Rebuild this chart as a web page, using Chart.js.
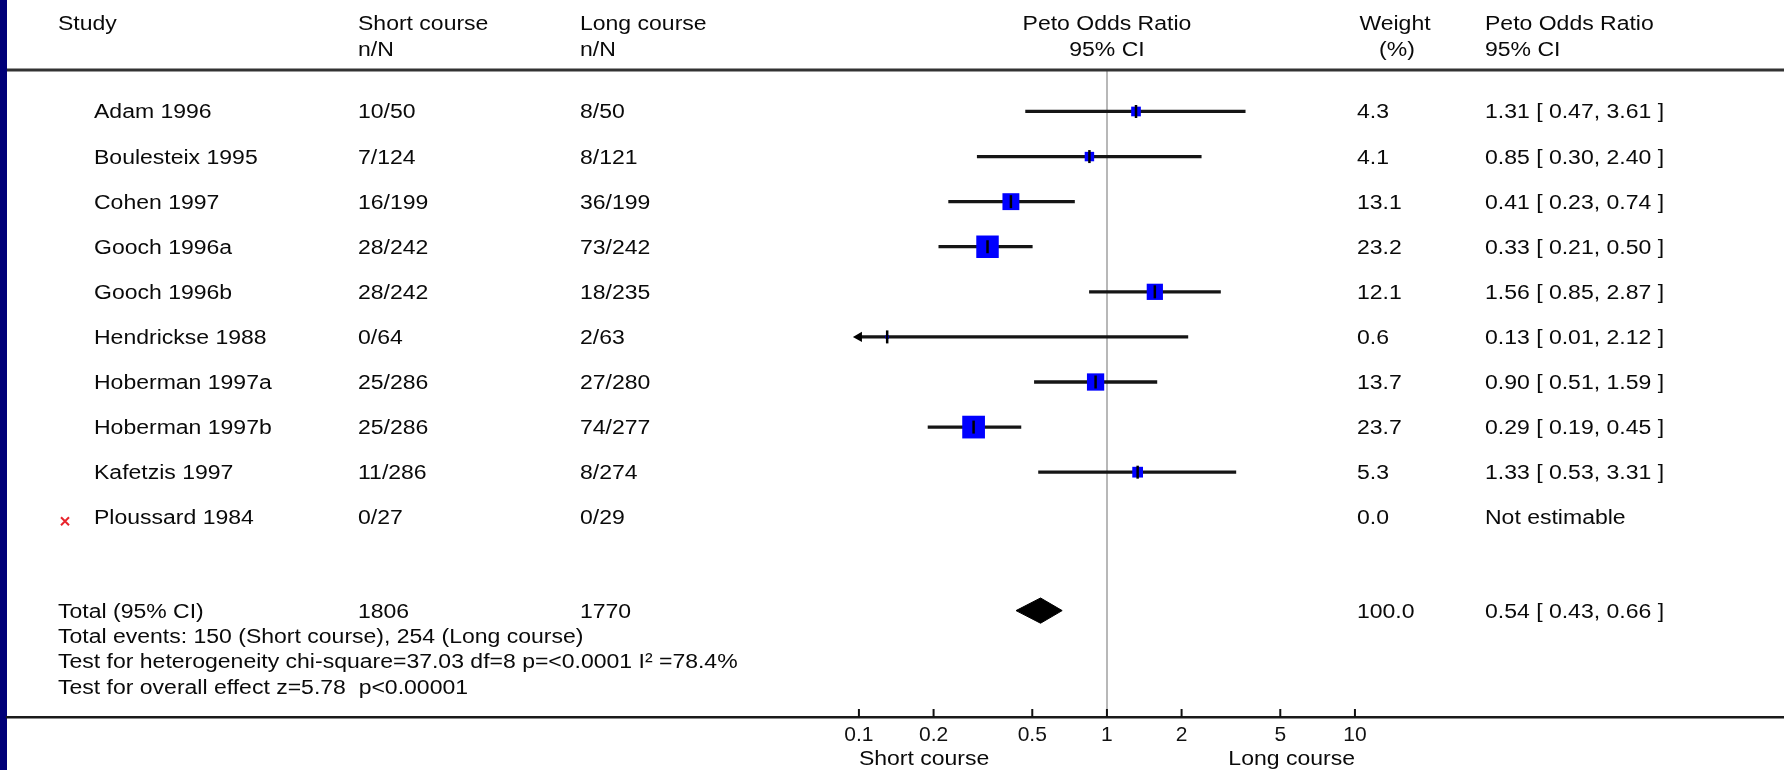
<!DOCTYPE html>
<html>
<head>
<meta charset="utf-8">
<script src="https://cdn.jsdelivr.net/npm/chart.js"></script>
<style>
  html, body { margin: 0; padding: 0; background: #fff; }
  #wrap { width: 1784px; height: 770px; position: relative; }
</style>
</head>
<body>
<div id="wrap"><canvas id="forest"></canvas></div>
<script>
const studies = ['Adam 1996', 'Boulesteix 1995', 'Cohen 1997', 'Gooch 1996a', 'Gooch 1996b',
                 'Hendrickse 1988', 'Hoberman 1997a', 'Hoberman 1997b', 'Kafetzis 1997', 'Ploussard 1984'];
const shortEvents = [10, 7, 16, 28, 28, 0, 25, 25, 11, 0];
const shortTotals = [50, 124, 199, 242, 242, 64, 286, 286, 286, 27];
const longEvents = [8, 8, 36, 73, 18, 2, 27, 74, 8, 0];
const longTotals = [50, 121, 199, 242, 235, 63, 280, 277, 274, 29];
const weights = [4.3, 4.1, 13.1, 23.2, 12.1, 0.6, 13.7, 23.7, 5.3, 0.0];
const oddsRatio = [1.31, 0.85, 0.41, 0.33, 1.56, 0.13, 0.90, 0.29, 1.33, null];
const ciLow = [0.47, 0.30, 0.23, 0.21, 0.85, 0.01, 0.51, 0.19, 0.53, null];
const ciHigh = [3.61, 2.40, 0.74, 0.50, 2.87, 2.12, 1.59, 0.45, 3.31, null];

const totalShort = 1806;
const totalLong = 1770;
const totalWeight = 100.0;
const totalOR = [0.54, 0.43, 0.66]; // estimate, low, high

const footerLines = [
    'Total events: 150 (Short course), 254 (Long course)',
    'Test for heterogeneity chi-square=37.03 df=8 p=<0.0001 I\u00B2 =78.4%',
    'Test for overall effect z=5.78  p<0.00001'
];

const tickValues = [0.1, 0.2, 0.5, 1, 2, 5, 10];
const tickLabels = ['0.1', '0.2', '0.5', '1', '2', '5', '10'];

// layout / style
const FAMILY = '"Liberation Sans", Arial, sans-serif';
const FONT = '20px ' + FAMILY;
const STRETCH = 1.15;
const TOTAL_ROW = 11.07;
const DIAMOND_HALF = 0.28;
const plotMin = tickValues[0];
const plotMax = tickValues[tickValues.length - 1];

window.onload = function() {
    forest();
};

function fmt(v) {
    return v.toFixed(2);
}

function ciText(e, l, h) {
    if (e === null) return 'Not estimable';
    return fmt(e) + ' [ ' + fmt(l) + ', ' + fmt(h) + ' ]';
}

// old slide font is wider than it is tall
function stretched(ctx, str, x, y, align) {
    ctx.save();
    ctx.translate(x, y);
    ctx.scale(STRETCH, 1);
    ctx.textAlign = align || 'left';
    ctx.fillText(str, 0, 0);
    ctx.restore();
}

const tablePlugin = {
    id: 'table',
    beforeDraw(chart) {
        const c = chart.ctx;
        c.save();
        c.fillStyle = '#fff';
        c.fillRect(0, 0, chart.width, chart.height);
        c.fillStyle = '#000078';
        c.fillRect(0, 0, 7, chart.height);
        c.restore();
    },
    afterDraw(chart) {
        const c = chart.ctx;
        const xs = chart.scales.x;
        const ys = chart.scales.y;
        const area = chart.chartArea;
        const one = xs.getPixelForValue(1);

        c.save();
        c.font = FONT;
        c.fillStyle = '#0a0a0a';
        c.textBaseline = 'alphabetic';

        // header
        stretched(c, 'Study', 58, 30);
        stretched(c, 'Short course', 358, 30);
        stretched(c, 'n/N', 358, 56);
        stretched(c, 'Long course', 580, 30);
        stretched(c, 'n/N', 580, 56);
        stretched(c, 'Peto Odds Ratio', one, 30, 'center');
        stretched(c, '95% CI', one, 56, 'center');
        stretched(c, 'Weight', 1395, 30, 'center');
        stretched(c, '(%)', 1397, 56, 'center');
        stretched(c, 'Peto Odds Ratio', 1485, 30);
        stretched(c, '95% CI', 1485, 56);

        // study rows
        studies.forEach(function(s, i) {
            const y = ys.getPixelForValue(i) + 7;
            stretched(c, s, 94, y);
            stretched(c, shortEvents[i] + '/' + shortTotals[i], 358, y);
            stretched(c, longEvents[i] + '/' + longTotals[i], 580, y);
            stretched(c, weights[i].toFixed(1), 1357, y);
            stretched(c, ciText(oddsRatio[i], ciLow[i], ciHigh[i]), 1485, y);
        });

        // total row + footer
        const ty = ys.getPixelForValue(TOTAL_ROW) + 7;
        stretched(c, 'Total (95% CI)', 58, ty);
        stretched(c, String(totalShort), 358, ty);
        stretched(c, String(totalLong), 580, ty);
        stretched(c, totalWeight.toFixed(1), 1357, ty);
        stretched(c, ciText(totalOR[0], totalOR[1], totalOR[2]), 1485, ty);
        footerLines.forEach(function(line, k) {
            stretched(c, line, 58, ty + 25.4 * (k + 1));
        });

        // axis captions
        stretched(c, 'Short course', xs.getPixelForValue(plotMin), 765);
        stretched(c, 'Long course', xs.getPixelForValue(plotMax), 765, 'right');

        // red cross for studies without an estimate
        c.strokeStyle = '#e8242c';
        c.lineWidth = 2;
        studies.forEach(function(s, i) {
            if (oddsRatio[i] !== null) return;
            const cy = ys.getPixelForValue(i) + 4;
            c.beginPath();
            c.moveTo(61, cy - 4); c.lineTo(69, cy + 4);
            c.moveTo(69, cy - 4); c.lineTo(61, cy + 4);
            c.stroke();
        });

        // header rule
        c.fillStyle = '#333';
        c.fillRect(7, area.top - 1.5, chart.width - 7, 3);

        // tick marks point up into the plot
        c.strokeStyle = '#111';
        c.lineWidth = 2;
        xs.ticks.forEach(function(t) {
            const px = xs.getPixelForValue(t.value);
            c.beginPath();
            c.moveTo(px, area.bottom);
            c.lineTo(px, area.bottom - 8);
            c.stroke();
        });
        c.restore();
    }
};

function forest() {
    const ctx = document.getElementById('forest').getContext('2d');
    const rows = studies.map(function(s, i) { return i; }).filter(function(i) { return oddsRatio[i] !== null; });
    const points = rows.map(function(i) { return {x: oddsRatio[i], y: i}; });

    const diamond = [
        {x: totalOR[1], y: TOTAL_ROW},
        {x: totalOR[0], y: TOTAL_ROW - DIAMOND_HALF},
        {x: totalOR[2], y: TOTAL_ROW},
        {x: totalOR[0], y: TOTAL_ROW + DIAMOND_HALF},
        {x: totalOR[1], y: TOTAL_ROW}
    ];

    const chart = new Chart(ctx, {
        type: 'scatter',
        data: {
            datasets: [
                {
                    type: 'bar',
                    indexAxis: 'y',
                    data: rows.map(function(i) {
                        return {x: [Math.max(ciLow[i], plotMin), Math.min(ciHigh[i], plotMax)], y: i};
                    }),
                    backgroundColor: '#151515',
                    borderWidth: 0,
                    barThickness: 2.6,
                    order: 5
                },
                {
                    data: points,
                    pointStyle: 'rect',
                    pointRadius: function(c) {
                        return c.raw ? Math.sqrt(weights[c.raw.y]) * 3.3 : 0;
                    },
                    backgroundColor: '#0000ff',
                    borderWidth: 0,
                    order: 4
                },
                {
                    data: points,
                    pointStyle: 'line',
                    rotation: 90,
                    pointRadius: 6.5,
                    borderColor: '#000',
                    borderWidth: 2.5,
                    order: 3
                },
                {
                    data: rows.filter(function(i) { return ciLow[i] < plotMin; })
                              .map(function(i) { return {x: plotMin, y: i}; }),
                    pointStyle: 'triangle',
                    rotation: -90,
                    pointRadius: 6,
                    backgroundColor: '#000',
                    borderWidth: 0,
                    order: 2
                },
                {
                    type: 'line',
                    data: diamond,
                    fill: 'shape',
                    backgroundColor: '#000',
                    borderColor: '#000',
                    borderWidth: 1,
                    pointRadius: 0,
                    tension: 0,
                    order: 1
                }
            ]
        },
        options: {
            responsive: true,
            maintainAspectRatio: false,
            animation: false,
            events: [],
            layout: {
                autoPadding: false,
                padding: {left: 7, top: 70, right: 0, bottom: 0}
            },
            plugins: {
                legend: {display: false},
                tooltip: {enabled: false}
            },
            scales: {
                x: {
                    type: 'logarithmic',
                    position: 'bottom',
                    min: Math.pow(10, -4.435),
                    max: Math.pow(10, 2.73),
                    bounds: 'data',
                    offset: false,
                    beginAtZero: false,
                    afterBuildTicks: function(s) {
                        s.ticks = tickValues.map(function(v) { return {value: v}; });
                    },
                    afterFit: function(s) {
                        s.height = 53;
                    },
                    grid: {
                        offset: false,
                        drawTicks: false,
                        lineWidth: 2,
                        color: function(c) {
                            return (c.tick && c.tick.value === 1) ? '#b8b8b8' : 'rgba(0,0,0,0)';
                        }
                    },
                    border: {display: true, color: '#1a1a1a', width: 2.5},
                    ticks: {
                        autoSkip: false,
                        maxRotation: 0,
                        padding: 6,
                        color: '#111',
                        font: {family: FAMILY, size: 21},
                        callback: function(v) {
                            const k = tickValues.indexOf(v);
                            return k >= 0 ? tickLabels[k] : '';
                        }
                    }
                },
                y: {
                    type: 'linear',
                    display: false,
                    reverse: true,
                    offset: false,
                    min: -0.92,
                    max: 13.43
                }
            }
        },
        plugins: [tablePlugin]
    });
}
</script>
</body>
</html>
